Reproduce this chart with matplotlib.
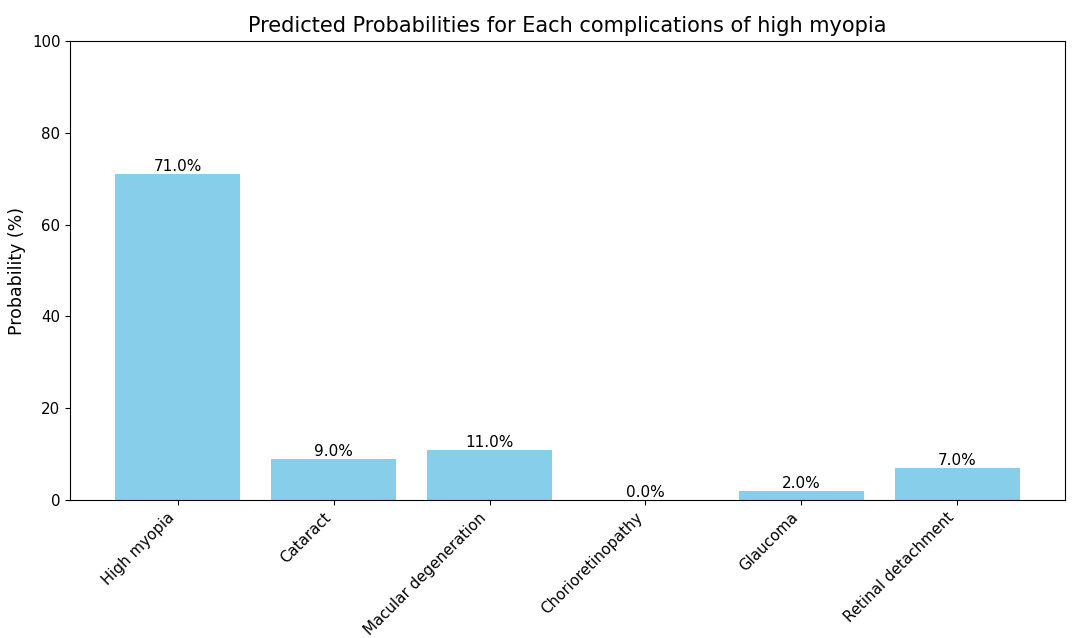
import matplotlib
matplotlib.use("Agg")
import matplotlib.pyplot as plt

categories = ["High myopia", "Cataract", "Macular degeneration",
              "Chorioretinopathy", "Glaucoma", "Retinal detachment"]
probabilities = [71.0, 9.0, 11.0, 0.0, 2.0, 7.0]

fig = plt.figure(figsize=(10.8, 6.38), dpi=100)
ax = fig.add_axes([0.065, 0.216, 0.921, 0.72])

bars = ax.bar(categories, probabilities, color="skyblue")
for b, v in zip(bars, probabilities):
    ax.text(b.get_x() + b.get_width() / 2, b.get_height(), f"{v:.1f}%",
            ha="center", va="bottom", fontsize=11)

ax.set_ylim(0, 100)
ax.set_ylabel("Probability (%)", fontsize=12.5)
ax.set_title("Predicted Probabilities for Each complications of high myopia", fontsize=15)
plt.setp(ax.get_xticklabels(), rotation=45, ha="right", fontsize=10.8)
plt.setp(ax.get_yticklabels(), fontsize=10.8)

fig.savefig("out.png", dpi=100)
